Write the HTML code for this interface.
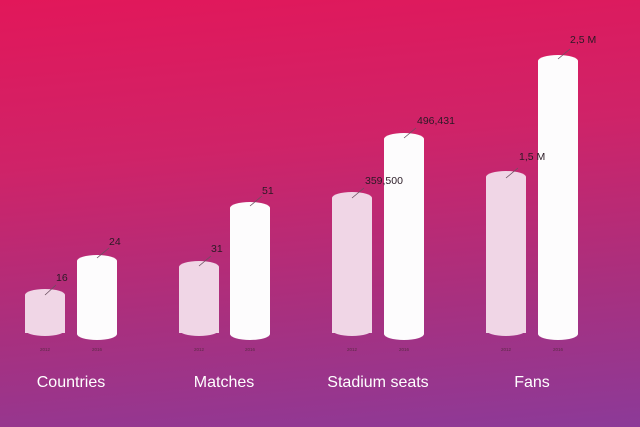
<!DOCTYPE html>
<html><head><style>
body{margin:0;width:640px;height:427px;overflow:hidden;background:linear-gradient(175deg,#e2175a 0%,#cf2368 35%,#a8307f 70%,#8c3a98 100%);font-family:"Liberation Sans",sans-serif}
</style></head><body>
<svg width="640" height="427" xmlns="http://www.w3.org/2000/svg" style="position:absolute;left:0;top:0">
<g fill="#f0d6e6">
<rect x="25" y="289" width="40" height="47" rx="20" ry="6"/><rect x="25" y="295" width="40" height="38"/>
<rect x="179" y="261" width="40" height="75" rx="20" ry="6"/><rect x="179" y="267" width="40" height="66"/>
<rect x="332" y="192" width="40" height="144" rx="20" ry="6"/><rect x="332" y="198" width="40" height="135"/>
<rect x="486" y="171" width="40" height="165" rx="20" ry="6"/><rect x="486" y="177" width="40" height="156"/>
</g>
<g fill="#fdfcfd">
<rect x="77" y="255" width="40" height="85" rx="20" ry="6"/><rect x="77" y="261" width="40" height="72"/>
<rect x="230" y="202" width="40" height="138" rx="20" ry="6"/><rect x="230" y="208" width="40" height="125"/>
<rect x="384" y="133" width="40" height="207" rx="20" ry="6"/><rect x="384" y="139" width="40" height="194"/>
<rect x="538" y="55" width="40" height="285" rx="20" ry="6"/><rect x="538" y="61" width="40" height="272"/>
</g>
<g stroke="#6a5060" stroke-width="0.8">
<line x1="45" y1="295" x2="56" y2="285"/><line x1="97" y1="258" x2="109" y2="248"/>
<line x1="199" y1="266" x2="211" y2="256"/><line x1="250" y1="206" x2="262" y2="196"/>
<line x1="352" y1="198" x2="364" y2="188"/><line x1="404" y1="138" x2="416" y2="128"/>
<line x1="506" y1="178" x2="518" y2="168"/><line x1="558" y1="59" x2="570" y2="49"/>
</g>
<g fill="#2a1a25" font-size="10.5">
<text x="56" y="281">16</text><text x="109" y="245">24</text>
<text x="211" y="252">31</text><text x="262" y="194">51</text>
<text x="365" y="184">359,500</text><text x="417" y="124">496,431</text>
<text x="519" y="160">1,5 M</text><text x="570" y="43">2,5 M</text>
</g>
<g fill="#5a2a45" font-size="4.5" text-anchor="middle">
<text x="45" y="351">2012</text><text x="97" y="351">2016</text>
<text x="199" y="351">2012</text><text x="250" y="351">2016</text>
<text x="352" y="351">2012</text><text x="404" y="351">2016</text>
<text x="506" y="351">2012</text><text x="558" y="351">2016</text>
</g>
<g fill="#fff" font-size="16" text-anchor="middle">
<text x="71" y="387">Countries</text><text x="224" y="387">Matches</text>
<text x="378" y="387">Stadium seats</text><text x="532" y="387">Fans</text>
</g>
</svg>
</body></html>
